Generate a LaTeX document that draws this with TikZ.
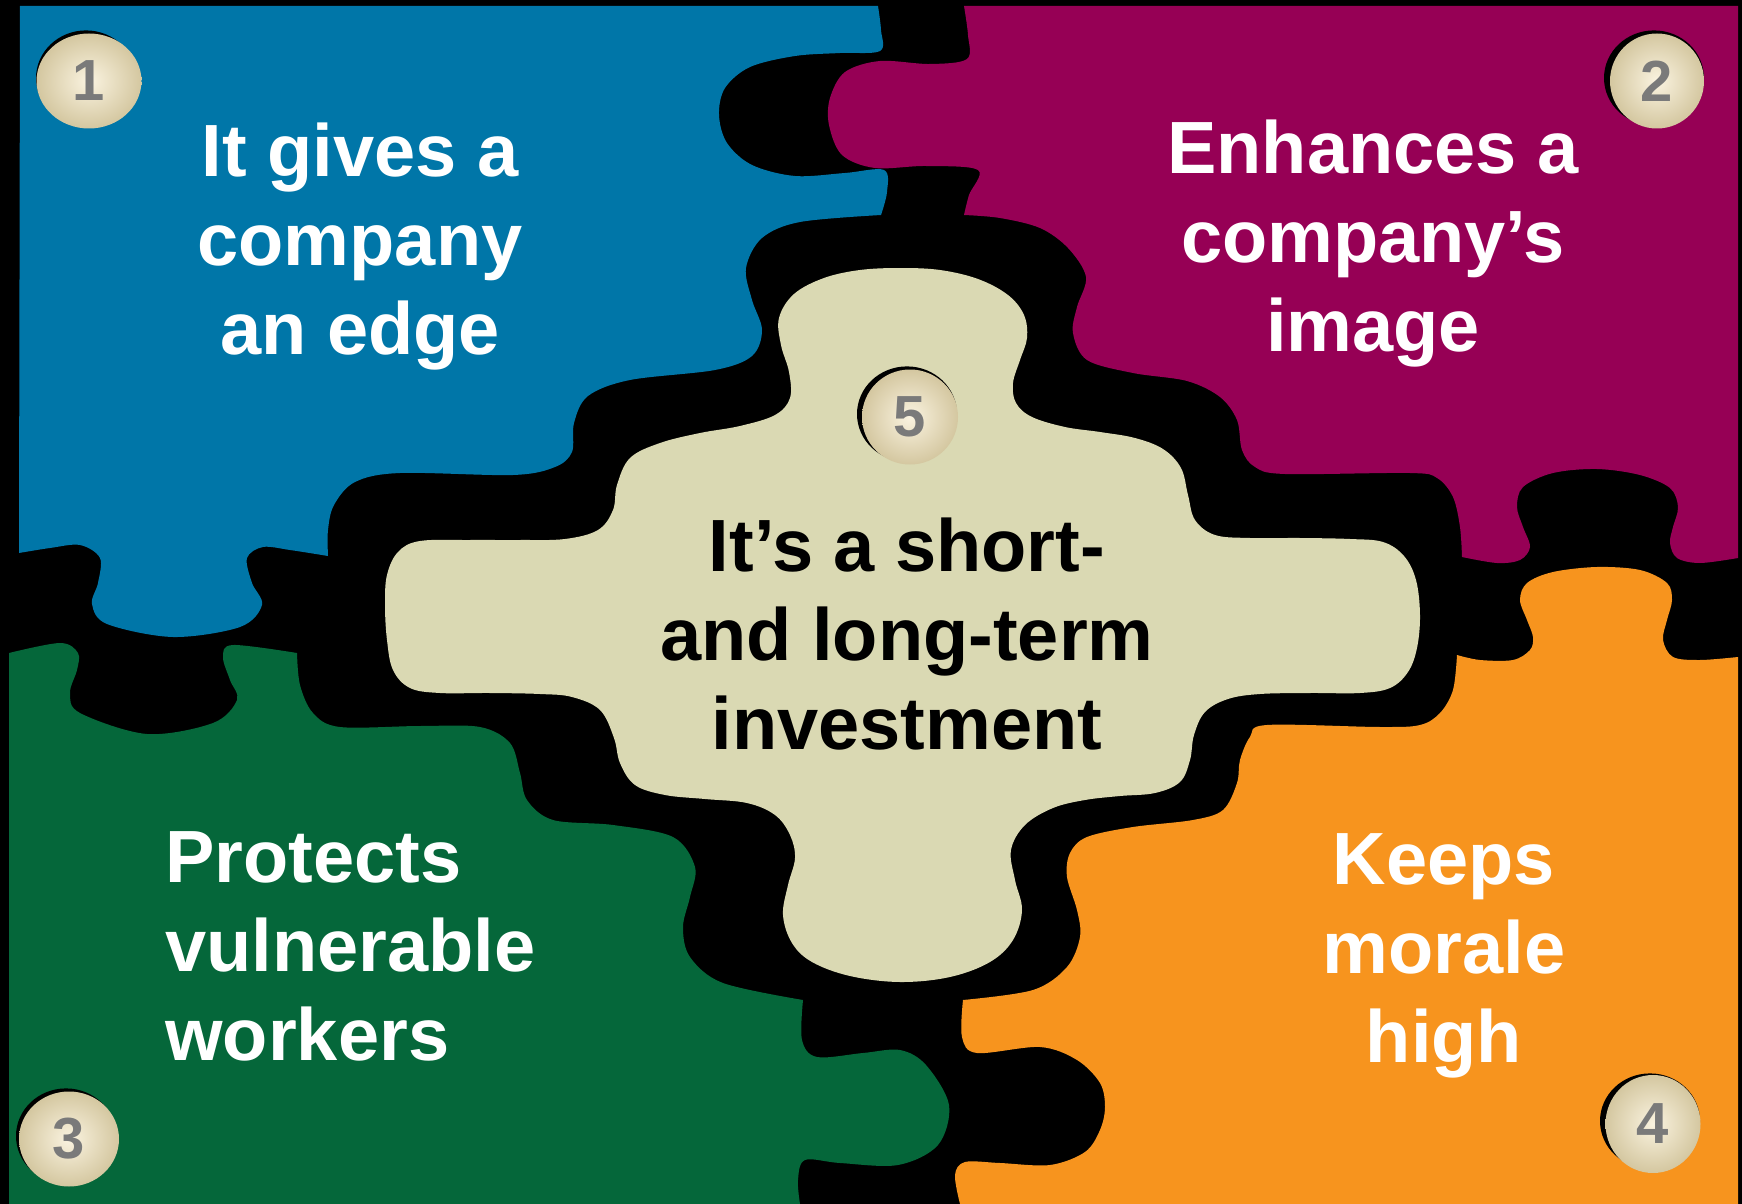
\documentclass[tikz,border=0pt]{standalone}
\usepackage{fontspec}
\setmainfont{Liberation Sans}
\usetikzlibrary{shapes.geometric}
\definecolor{pblue}{RGB}{0,118,168}
\definecolor{pmag}{RGB}{150,0,85}
\definecolor{pgreen}{RGB}{5,103,58}
\definecolor{porange}{RGB}{247,148,30}
\definecolor{pcream}{RGB}{218,217,179}
\definecolor{badgein}{RGB}{250,243,224}
\definecolor{badgeout}{RGB}{212,199,160}
\definecolor{numgray}{RGB}{122,122,122}
\begin{document}
\begin{tikzpicture}[x=0.5pt,y=-0.5pt,
  piecetext/.style={text=white,font=\fontsize{37}{44.5}\selectfont\bfseries,align=center,inner sep=0pt},
  badge/.style={ellipse,inner sep=0pt,minimum width=50pt,minimum height=47.5pt,
    inner color=badgein,outer color=badgeout,text=numgray,font=\fontsize{29}{32}\selectfont\bfseries},
  sm/.style={smooth,tension=.55}]
\useasboundingbox (0,0) rectangle (1742,1204);
\fill[black] (0,0) rectangle (1742,1204);
% blue piece
\fill[pblue] (20,6) -- (878,6)
  -- plot[sm] coordinates {(878,6) (881,30) (880,51) (840,53) (795,56) (750,67) (725,88) (719,115) (727,143) (752,165) (795,176) (845,173) (884,170) (887,192) (881,215)}
  -- plot[sm] coordinates {(881,215) (800,222) (762,238) (746,268) (752,300) (762,330) (752,356) (715,370) (630,380) (588,396) (574,423) (572,452) (555,467) (513,475) (400,473) (355,482) (334,505) (328,530) (328,556)}
  -- plot[sm] coordinates {(328,556) (290,550) (263,547) (247,558) (252,583) (262,605) (240,627) (173,637) (107,624) (92,604) (98,583) (100,558) (80,545) (50,548) (19,553)}
  -- cycle;
% magenta piece
\fill[pmag] (964,6) -- (1738,6) -- (1738,558)
  -- plot[sm] coordinates {(1738,558) (1700,563) (1677,558) (1670,543) (1673,527) (1678,507) (1670,488) (1640,475) (1597,469) (1553,473) (1523,487) (1517,507) (1523,527) (1530,547) (1520,560) (1497,563) (1462,557)}
  -- plot[sm] coordinates {(1462,557) (1460,527) (1453,497) (1437,478) (1410,473) (1285,474) (1255,467) (1242,450) (1237,420) (1220,397) (1187,381) (1133,373) (1087,360) (1073,333) (1077,307) (1086,277) (1068,248) (1040,228) (1000,218) (964,215)}
  -- plot[sm] coordinates {(964,215) (969,195) (978,170) (926,166) (875,168) (842,155) (829,125) (830,98) (845,72) (880,61) (930,64) (967,59) (968,35) (964,6)}
  -- cycle;
% orange piece
\fill[porange] (1738,1204) -- (1738,657)
  -- plot[sm] coordinates {(1738,657) (1700,660) (1673,657) (1663,640) (1667,620) (1672,600) (1667,583) (1640,570) (1597,567) (1553,572) (1527,583) (1520,600) (1527,620) (1533,637) (1530,650) (1513,660) (1480,660) (1457,655)}
  -- plot[sm] coordinates {(1457,655) (1453,690) (1440,713) (1420,725) (1380,727) (1267,725) (1250,737) (1240,760) (1237,783) (1223,810) (1193,820) (1133,827) (1087,837) (1070,853) (1067,877) (1077,910) (1080,937) (1067,967) (1033,990) (963,1000)}
  -- plot[sm] coordinates {(963,1000) (962,1037) (977,1053) (1040,1047) (1077,1060) (1100,1083) (1105,1107) (1100,1130) (1085,1152) (1050,1165) (1000,1163) (965,1162) (955,1175) (960,1204)}
  -- cycle;
% green piece
\fill[pgreen] (9,1204) -- (9,653)
  -- plot[sm] coordinates {(9,653) (60,643) (78,653) (77,670) (70,693) (80,713) (147,734) (213,723) (237,700) (230,680) (223,657) (233,645) (297,653)}
  -- plot[sm] coordinates {(297,653) (300,685) (313,713) (340,727) (420,726) (480,727) (510,743) (520,773) (527,800) (553,820) (613,825) (673,837) (695,867) (690,897) (683,927) (690,957) (723,983) (803,1000)}
  -- plot[sm] coordinates {(803,1000) (802,1040) (817,1057) (863,1053) (900,1050) (926,1065) (949,1105) (938,1145) (898,1165) (840,1163) (805,1160) (798,1180) (800,1204)}
  -- cycle;
% centre piece
\fill[pcream] plot[smooth cycle,tension=.6] coordinates {
 (900,268) (940,270) (978,279) (1008,295) (1024,315) (1027,338) (1020,360) (1013,383) (1016,403) (1032,417) (1065,427) (1100,432) (1135,438) (1163,449) (1181,468) (1188,495) (1195,520) (1215,535) (1250,538) (1300,538) (1350,539) (1383,542) (1404,556) (1416,580) (1420,615) (1417,648) (1408,672) (1390,688) (1360,693) (1310,693) (1260,694) (1228,699) (1205,712) (1194,735) (1190,760) (1180,782) (1155,793) (1120,796) (1085,800) (1053,808) (1025,825) (1011,850) (1015,880) (1022,910) (1013,940) (990,962) (950,977) (900,982) (850,976) (812,962) (792,943) (783,915) (788,885) (795,858) (790,835) (775,815) (747,803) (705,799) (665,795) (635,785) (620,763) (614,738) (600,710) (572,697) (540,694) (490,693) (440,693) (410,688) (393,670) (387,640) (385,605) (387,575) (398,552) (420,541) (470,540) (520,540) (565,539) (598,530) (613,510) (617,485) (630,458) (660,443) (700,433) (740,426) (775,415) (790,398) (789,372) (781,345) (779,318) (794,294) (824,278) (860,270)};
% badges
\foreach \p in {(86,78),(1654,78),(66,1136),(1650,1121),(907,414)}
  \fill[black] \p ellipse [x radius=25pt, y radius=23.8pt];
\node[badge,minimum width=52.5pt] (b1) at (89,81) {1};
\node[badge,minimum width=47pt] (b2) at (1657,81) {2};
\node[badge] (b3) at (69,1139) {3};
\node[badge,minimum width=47.5pt,minimum height=49pt] (b4) at (1653,1124) {4};
\node[badge,minimum width=48pt] (b5) at (910,417) {5};
% texts
\node[piecetext] (t1) at (360,246.5) {It gives a\\company\\an edge};
\node[piecetext] (t2) at (1373,244) {Enhances a\\company’s\\image};
\node[piecetext,align=left,anchor=west] (t3) at (165,946.5) {Protects\\vulnerable\\workers};
\node[piecetext] (t4) at (1444,956) {Keeps\\morale\\high};
\node[piecetext,text=black] (t5) at (907,634.5) {It’s a short-\\and long-term\\investment};
\end{tikzpicture}
\end{document}
